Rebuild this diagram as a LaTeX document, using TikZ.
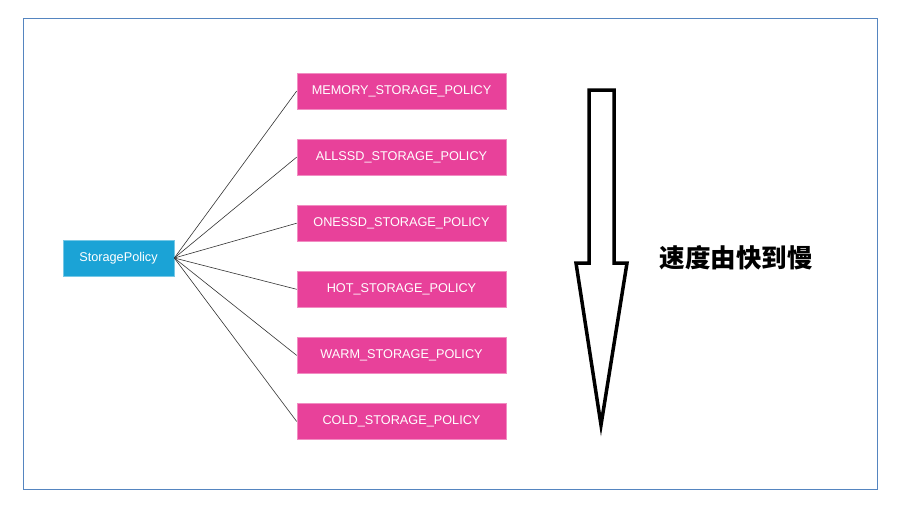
\documentclass[tikz,border=0pt]{standalone}
\usepackage{fontspec}
\setmainfont{Liberation Sans}
\newfontfamily\cjk{Noto Sans CJK SC}
\usetikzlibrary{positioning}
\definecolor{policypink}{HTML}{E8419A}
\definecolor{rootblue}{HTML}{1BA3D6}
\definecolor{framebl}{HTML}{5585C0}
\begin{document}
\begin{tikzpicture}[x=1pt,y=-1pt,node distance=29.5pt,
  policy/.style={fill=policypink, draw=policypink!60!white, line width=0.6pt, text=white,
    minimum width=209pt, minimum height=36pt, inner sep=0pt, font=\fontsize{12.7}{14}\selectfont},
  root/.style={fill=rootblue, draw=rootblue!60!white, line width=0.6pt, text=white,
    minimum width=111pt, minimum height=36pt, inner sep=0pt, font=\fontsize{12.7}{14}\selectfont},
  link/.style={draw=black!80, line width=0.6pt}]
\useasboundingbox (0,0) rectangle (904,512);
\draw[framebl, line width=1pt] (23,18) rectangle (877,489);
\node (sp) [root] at (118.5,258) {StoragePolicy};
\node (memory) [policy] at (401.5,91) {MEMORY\_STORAGE\_POLICY};
\node (allssd) [policy, below=of memory] {ALLSSD\_STORAGE\_POLICY};
\node (onessd) [policy, below=of allssd] {ONESSD\_STORAGE\_POLICY};
\node (hot) [policy, below=of onessd] {HOT\_STORAGE\_POLICY};
\node (warm) [policy, below=of hot] {WARM\_STORAGE\_POLICY};
\node (cold) [policy, below=of warm] {COLD\_STORAGE\_POLICY};
\foreach \p in {memory,allssd,onessd,hot,warm,cold}
  \draw[link] (sp.east) -- (\p.west);
% speed arrow
\draw[line width=3.5pt, line join=miter, fill=white]
  (589,90) -- (614,90) -- (614,263) -- (627,263) -- (601,425)
  -- (576,263) -- (589,263) -- cycle;
\node (speed) at (736,258) {\cjk\bfseries\fontsize{25.5}{28}\selectfont 速度由快到慢};
\end{tikzpicture}
\end{document}
